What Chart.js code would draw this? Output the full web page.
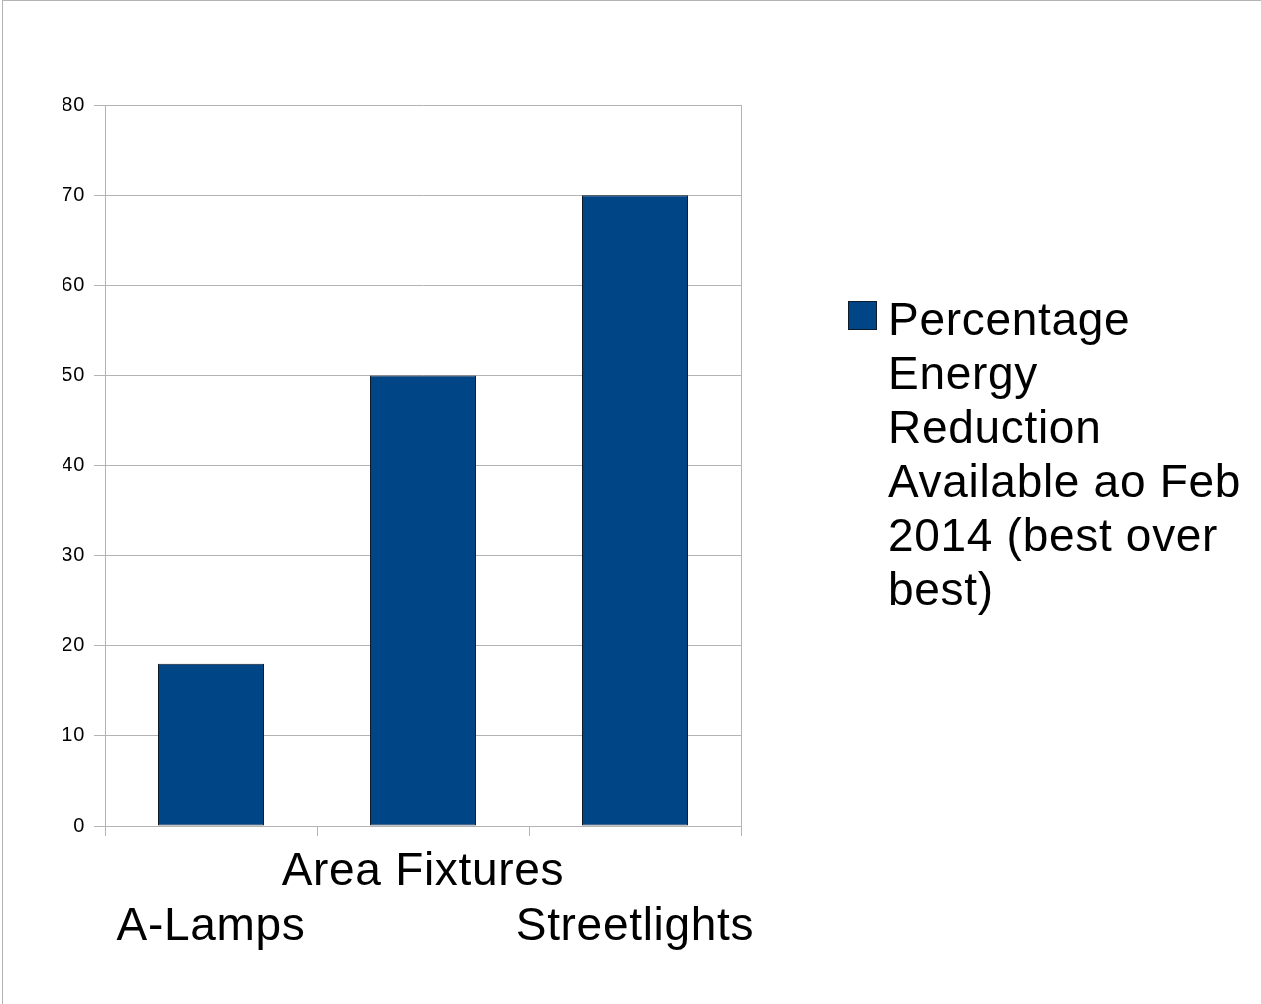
<!DOCTYPE html>
<html>
<head>
<meta charset="utf-8">
<script src="https://cdn.jsdelivr.net/npm/chart.js@4.4.1/dist/chart.umd.min.js"></script>
<style>
  html, body { margin: 0; padding: 0; background: #ffffff; }
  #wrap { position: relative; width: 1261px; height: 1004px; }
  #wrap canvas { position: absolute; left: 0; top: 0; }
  #frame {
    position: absolute; left: 2px; top: 0; right: 0; bottom: 0;
    border-top: 1px solid #b3b3b3; border-left: 1px solid #b3b3b3;
    pointer-events: none;
  }
</style>
</head>
<body>
<div id="wrap">
  <canvas id="chart" width="1261" height="1004"></canvas>
  <div id="frame"></div>
</div>
<script>
// Chart data
const categories = ['A-Lamps', 'Area Fixtures', 'Streetlights'];
const reduction = [18, 50, 70];
const yTickValues = [0, 10, 20, 30, 40, 50, 60, 70, 80];
const legendLines = ['Percentage', 'Energy', 'Reduction', 'Available ao Feb', '2014 (best over', 'best)'];

const GRID = '#b3b3b3';
const BAR_FILL = '#004586';
const BAR_EDGE = '#0d1b2a';
const FONT = "'Liberation Sans', Arial, sans-serif";
const SPACING = '0.7px';

// Slightly open letter spacing for every text drawn on the canvas
const textSpacing = {
  id: 'textSpacing',
  beforeLayout(chart) { chart.ctx.letterSpacing = SPACING; },
  beforeDraw(chart) { chart.ctx.letterSpacing = SPACING; }
};

// Legend drawn at the right of the plot, text wrapped onto several lines
const sideLegend = {
  id: 'sideLegend',
  afterDraw(chart) {
    const ctx = chart.ctx;
    const ds = chart.data.datasets[0];
    const boxX = 848, boxY = 301, box = 29;
    ctx.save();
    ctx.fillStyle = ds.backgroundColor;
    ctx.fillRect(boxX, boxY, box, box);
    ctx.strokeStyle = ds.borderColor;
    ctx.lineWidth = 1;
    ctx.strokeRect(boxX + 0.5, boxY + 0.5, box - 1, box - 1);
    ctx.fillStyle = '#000000';
    ctx.font = '46px ' + FONT;
    ctx.letterSpacing = SPACING;
    ctx.textAlign = 'left';
    ctx.textBaseline = 'alphabetic';
    legendLines.forEach((line, i) => {
      ctx.fillText(line, 888, 335 + i * 54);
    });
    ctx.restore();
  }
};

new Chart(document.getElementById('chart'), {
  type: 'bar',
  data: {
    labels: categories,
    datasets: [{
      label: legendLines.join(' '),
      data: reduction,
      backgroundColor: BAR_FILL,
      borderColor: BAR_EDGE,
      borderWidth: 1,
      borderSkipped: false,
      categoryPercentage: 1.0,
      barPercentage: 0.5
    }]
  },
  options: {
    responsive: false,
    devicePixelRatio: 1,
    animation: false,
    layout: { padding: { left: 63, right: 520, top: 105, bottom: 0 } },
    plugins: {
      legend: { display: false },
      tooltip: { enabled: false }
    },
    scales: {
      x: {
        offset: true,
        grid: {
          offset: true,
          // only the closing boundary runs across the plot; every boundary gets a tick mark
          color: (ctx) => ctx.type === 'scale' ? GRID : 'rgba(0,0,0,0)',
          tickColor: GRID,
          tickLength: 10,
          lineWidth: 1
        },
        border: { display: true, color: GRID, width: 1 },
        ticks: {
          color: '#000000',
          font: { family: FONT, size: 46, lineHeight: 1.2 },
          padding: 9,
          maxRotation: 0,
          autoSkip: false,
          callback: (value, index) => index % 2 === 1 ? [categories[index], ''] : ['', categories[index]]
        },
        afterFit: (scale) => { scale.height = 178; }
      },
      y: {
        min: 0,
        max: 80,
        afterBuildTicks: (scale) => { scale.ticks = yTickValues.map(v => ({ value: v })); },
        grid: {
          color: GRID,
          tickColor: GRID,
          tickLength: 11,
          lineWidth: 1
        },
        border: { display: true, color: GRID, width: 1 },
        ticks: {
          color: '#000000',
          font: { family: FONT, size: 20 },
          padding: 9
        },
        afterFit: (scale) => { scale.width = 42; }
      }
    }
  },
  plugins: [textSpacing, sideLegend]
});
</script>
</body>
</html>
